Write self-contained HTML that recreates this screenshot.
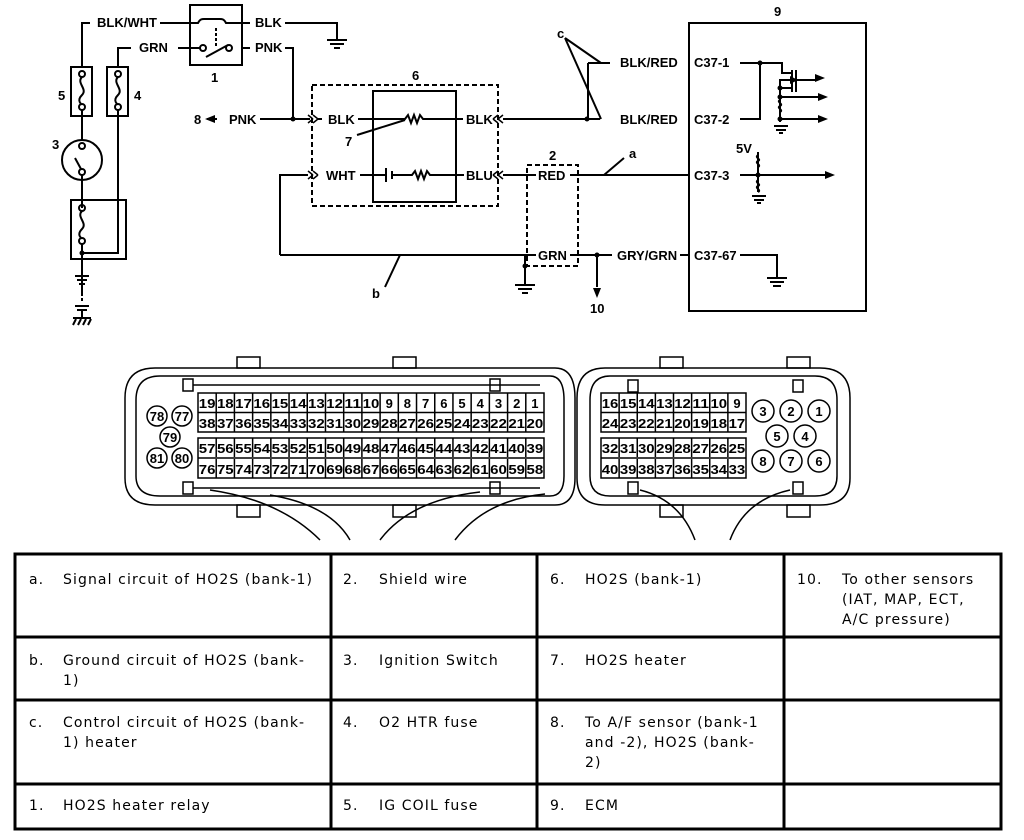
<!DOCTYPE html>
<html><head><meta charset="utf-8"><style>
body{margin:0;width:1024px;height:840px;background:#fff;position:relative;overflow:hidden;font-family:"DejaVu Sans",sans-serif}
svg{position:absolute;left:0;top:0}
.c{position:absolute;font-size:14px;line-height:20px;color:#000;letter-spacing:1.1px}
</style></head><body>
<svg width="1024" height="840" viewBox="0 0 1024 840" font-family="Liberation Sans, sans-serif" font-weight="bold" font-size="13">
<g stroke="#000" stroke-width="2" fill="none">
<rect x="190" y="5" width="52" height="60"/>
<path d="M82 67V23h8M160 23h38c2-4 4-4 6-4h16c2 0 4 0 6 4h16M118 67V48h13M178 48h22M242 48h8M242 23h8"/>
<path d="M206 57l22-12" />
<circle cx="203" cy="48" r="3"/><circle cx="229" cy="48" r="3"/>
<path d="M216 28v20" stroke-dasharray="3 2"/>
<path d="M285 23h52v17M327 40h20M330 44h14M334 48h6"/>
<path d="M285 48h8v71"/>
<rect x="71" y="67" width="21" height="49"/><rect x="107" y="67" width="21" height="49"/>
<circle cx="82" cy="74" r="3"/><circle cx="82" cy="107" r="3"/><path d="M82 77c-6 6 6 12 0 18s0 10 0 9"/>
<circle cx="118" cy="74" r="3"/><circle cx="118" cy="107" r="3"/><path d="M118 77c-6 6 6 12 0 18s0 10 0 9"/>
<path d="M82 110v30M118 110v143H82"/>
<circle cx="82" cy="160" r="20"/><circle cx="82" cy="146" r="3"/><circle cx="82" cy="172" r="3"/><path d="M75 158l6 11M82 175v33"/>
<rect x="71" y="200" width="55" height="59"/>
<circle cx="82" cy="208" r="3"/><circle cx="82" cy="241" r="3"/><path d="M82 211c-6 6 6 12 0 18s0 10 0 9M82 244v52"/>
<path d="M75 276h14M77 280h10M79 284h6" />
<path d="M82 288v14" stroke-dasharray="3 2"/>
<path d="M75 306h14M77 310h10M82 310v8M73 318h18M76 319l-3 6M81 319l-3 6M86 319l-3 6M91 319l-3 6"/>
<path d="M217 119h-10"/><path d="M260 119h50"/>
<path d="M313 119l-5-4M313 119l-5 4M318 119l-5-4M318 119l-5 4" stroke-width="1.5"/>
<path d="M318 119h4M358 119h47l3-4 3 8 3-8 3 8 3-8 3 4h40"/>
<path d="M493 119l5-4M493 119l5 4M498 119l5-4M498 119l5 4" stroke-width="1.5"/>
<path d="M503 119h97M357 135l48-15"/>
<rect x="312" y="85" width="186" height="121" stroke-dasharray="5 3"/>
<rect x="373" y="91" width="83" height="111"/>
<path d="M280 255V175h28"/>
<path d="M313 175l-5-4M313 175l-5 4M318 175l-5-4M318 175l-5 4" stroke-width="1.5"/>
<path d="M360 175h26M386 168v14M392 171v8M392 175h20l3-4 3 8 3-8 3 8 3-8 3 4h34"/>
<path d="M493 175l5-4M493 175l5 4M498 175l5-4M498 175l5 4" stroke-width="1.5"/>
<path d="M503 175h33"/>
<path d="M280 255h256M400 255l-15 32"/>
<rect x="527" y="165" width="51" height="101" stroke-dasharray="5 3"/>
<path d="M570 175h120M604 175l20-17"/>
<path d="M525 255v30M515 285h20M518 289h14M522 293h6"/>
<path d="M570 255h42M680 255h8M597 255v32"/>
<path d="M588 63v56M588 63h22M565 38l36 25M565 38l36 81"/>
<rect x="689" y="23" width="177" height="288"/>
<path d="M740 63h42v10h10M760 63v56h-20M792 70v22M796 70v22M792 80h-12v17M780 88h12M796 80h20M780 97h40M780 97v25M780 119h40M774 126h14M776 130h10M779 133h4M780 100c-4 2 4 4 0 6s4 4 0 6"/>
<path d="M740 175h85M758 152v40M752 196h14M754 200h10M757 203h4"/>
<path d="M758 155c-4 3 4 4 0 6s4 4 0 6M758 180c-4 3 4 4 0 6s4 4 0 6"/>
<path d="M740 255h37v23M767 278h20M770 282h14M773 286h8"/>
</g>
<g fill="#000">
<circle cx="293" cy="119" r="2.5"/><circle cx="587" cy="119" r="2.5"/><circle cx="597" cy="255" r="2.5"/><circle cx="525" cy="266" r="2.5"/>
<circle cx="760" cy="63" r="2.5"/><circle cx="780" cy="88" r="2.5"/><circle cx="780" cy="97" r="2.5"/><circle cx="780" cy="119" r="2.5"/><circle cx="758" cy="175" r="2.5"/><circle cx="82" cy="253" r="2.5"/>
<path d="M205 119l10-4v8zM597 298l-4-10h8zM825 78l-10-4v8zM828 97l-10-4v8zM828 119l-10-4v8zM835 175l-10-4v8zM798 80l-8-4v8z"/>
<text x="97" y="27">BLK/WHT</text><text x="139" y="52">GRN</text><text x="255" y="27">BLK</text><text x="255" y="52">PNK</text>
<text x="211" y="82">1</text><text x="58" y="100">5</text><text x="134" y="100">4</text><text x="52" y="149">3</text>
<text x="194" y="124">8</text><text x="229" y="124">PNK</text><text x="328" y="124">BLK</text><text x="466" y="124">BLK</text><text x="412" y="80">6</text><text x="345" y="146">7</text>
<text x="326" y="180">WHT</text><text x="466" y="180">BLU</text><text x="372" y="298">b</text>
<text x="549" y="160">2</text><text x="538" y="180">RED</text><text x="538" y="260">GRN</text><text x="629" y="158">a</text>
<text x="590" y="313">10</text><text x="617" y="260">GRY/GRN</text><text x="557" y="38">c</text>
<text x="620" y="67">BLK/RED</text><text x="620" y="124">BLK/RED</text><text x="774" y="16">9</text>
<text x="694" y="67">C37-1</text><text x="694" y="124">C37-2</text><text x="694" y="180">C37-3</text><text x="694" y="260">C37-67</text><text x="736" y="153">5V</text>
</g>
<g stroke="#000" stroke-width="1.5" fill="none">
<path d="M155 368H555q20 0 20 30v80q0 27-20 27H155q-30 0-30-27v-80q0-30 30-30z"/>
<path d="M160 376H550q14 0 14 24v76q0 20-14 20H160q-24 0-24-20v-76q0-24 24-24z"/>
<path d="M193 385H540M193 488H540"/>
<rect x="237" y="357" width="23" height="11"/><rect x="393" y="357" width="23" height="11"/>
<rect x="237" y="505" width="23" height="12"/><rect x="393" y="505" width="23" height="12"/>
<rect x="183" y="379" width="10" height="12"/><rect x="490" y="379" width="10" height="12"/>
<rect x="183" y="482" width="10" height="12"/><rect x="490" y="482" width="10" height="12"/>
<path d="M210 490q70 10 110 50M270 495q60 10 80 45M380 540q30-40 100-48M455 540q30-40 90-46"/>
<path d="M605 368H820q30 0 30 30v80q0 27-30 27H605q-28 0-28-27v-80q0-30 28-30z"/>
<path d="M610 376H815q22 0 22 24v76q0 20-22 20H610q-20 0-20-20v-76q0-24 20-24z"/>
<rect x="660" y="357" width="23" height="11"/><rect x="787" y="357" width="23" height="11"/>
<rect x="660" y="505" width="23" height="12"/><rect x="787" y="505" width="23" height="12"/>
<rect x="628" y="380" width="10" height="12"/><rect x="793" y="380" width="10" height="12"/>
<rect x="628" y="482" width="10" height="12"/><rect x="793" y="482" width="10" height="12"/>
<path d="M640 490q40 10 55 50M730 540q15-40 60-50"/>
</g>
<g stroke="#000" stroke-width="1.5" fill="none">
<rect x="198" y="393" width="346" height="39"/><path d="M198 412.5h346"/>
<rect x="198" y="438" width="346" height="40"/><path d="M198 458h346"/>
<rect x="601" y="393" width="145" height="39"/><path d="M601 412.5h145"/>
<rect x="601" y="438" width="145" height="40"/><path d="M601 458h145"/>
<circle cx="157" cy="416" r="10"/><circle cx="182" cy="416" r="10"/><circle cx="170" cy="437" r="10"/><circle cx="157" cy="458" r="10"/><circle cx="182" cy="458" r="10"/>
<circle cx="763" cy="411" r="11"/><circle cx="791" cy="411" r="11"/><circle cx="819" cy="411" r="11"/><circle cx="777" cy="436" r="11"/><circle cx="805" cy="436" r="11"/><circle cx="763" cy="461" r="11"/><circle cx="791" cy="461" r="11"/><circle cx="819" cy="461" r="11"/>
</g>
<g id="grid" font-size="13" text-anchor="middle" fill="#000"></g>
<g font-size="13" text-anchor="middle" fill="#000">
<text x="157" y="421">78</text><text x="182" y="421">77</text><text x="170" y="442">79</text><text x="157" y="463">81</text><text x="182" y="463">80</text>
<text x="763" y="416">3</text><text x="791" y="416">2</text><text x="819" y="416">1</text><text x="777" y="441">5</text><text x="805" y="441">4</text><text x="763" y="466">8</text><text x="791" y="466">7</text><text x="819" y="466">6</text>
</g>
<g stroke="#000" stroke-width="3" fill="none">
<rect x="15" y="554" width="986" height="275"/>
<path d="M331 554v275M537 554v275M784 554v275M15 637h986M15 700h986M15 784h986"/>
</g>
</svg>
<div class="c" style="left:29px;top:570px">a.</div><div class="c" style="left:63px;top:570px">Signal circuit of HO2S (bank-1)</div>
<div class="c" style="left:343px;top:570px">2.</div><div class="c" style="left:379px;top:570px">Shield wire</div>
<div class="c" style="left:550px;top:570px">6.</div><div class="c" style="left:585px;top:570px">HO2S (bank-1)</div>
<div class="c" style="left:797px;top:570px">10.</div><div class="c" style="left:842px;top:570px;width:150px">To other sensors (IAT, MAP, ECT, A/C pressure)</div>
<div class="c" style="left:29px;top:651px">b.</div><div class="c" style="left:63px;top:651px;width:248px">Ground circuit of HO2S (bank-1)</div>
<div class="c" style="left:343px;top:651px">3.</div><div class="c" style="left:379px;top:651px">Ignition Switch</div>
<div class="c" style="left:550px;top:651px">7.</div><div class="c" style="left:585px;top:651px">HO2S heater</div>
<div class="c" style="left:29px;top:713px">c.</div><div class="c" style="left:63px;top:713px;width:248px">Control circuit of HO2S (bank-1) heater</div>
<div class="c" style="left:343px;top:713px">4.</div><div class="c" style="left:379px;top:713px">O2 HTR fuse</div>
<div class="c" style="left:550px;top:713px">8.</div><div class="c" style="left:585px;top:713px;width:182px">To A/F sensor (bank-1 and -2), HO2S (bank-2)</div>
<div class="c" style="left:29px;top:796px">1.</div><div class="c" style="left:63px;top:796px">HO2S heater relay</div>
<div class="c" style="left:343px;top:796px">5.</div><div class="c" style="left:379px;top:796px">IG COIL fuse</div>
<div class="c" style="left:550px;top:796px">9.</div><div class="c" style="left:585px;top:796px">ECM</div>
<script>
(function(){var g=document.getElementById('grid'),ns='http://www.w3.org/2000/svg';
function add(x0,w,n,rows,ys){for(var r=0;r<rows.length;r++){for(var i=0;i<n;i++){var t=document.createElementNS(ns,'text');t.setAttribute('x',x0+w*i+w/2);t.setAttribute('y',ys[r]);t.setAttribute('font-weight','bold');t.setAttribute('font-size','13');var s=String(rows[r][i]);if(s.length>1){t.setAttribute('textLength',w-1.5);t.setAttribute('lengthAdjust','spacingAndGlyphs');}t.textContent=s;g.appendChild(t);}
for(var i=1;i<n;i++){var l=document.createElementNS(ns,'line');var yt=ys[r]-15,yb=ys[r]+4;l.setAttribute('x1',x0+w*i);l.setAttribute('x2',x0+w*i);l.setAttribute('y1',yt);l.setAttribute('y2',yb);l.setAttribute('stroke','#000');l.setAttribute('stroke-width','1.5');g.appendChild(l);}}}
function seq(a,b){var r=[];if(a>b){for(var i=a;i>=b;i--)r.push(i);}else for(var i=a;i<=b;i++)r.push(i);return r;}
var w=346/19;add(198,w,19,[seq(19,1),seq(38,20),seq(57,39),seq(76,58)],[408,428,453,474]);
var w2=145/8;add(601,w2,8,[seq(16,9),seq(24,17),seq(32,25),seq(40,33)],[408,428,453,474]);
})();
</script>
</body></html>
